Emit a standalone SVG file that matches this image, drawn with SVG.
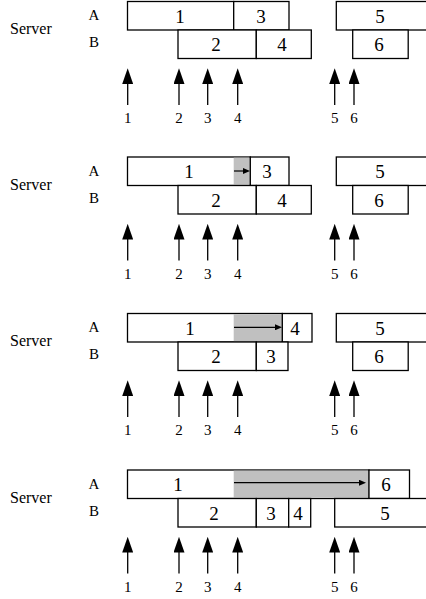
<svg xmlns="http://www.w3.org/2000/svg" width="426" height="599" viewBox="0 0 426 599">
<style>
.t{font-family:"Liberation Serif",serif;fill:#000}
.box{fill:#fff;stroke:#000;stroke-width:1.3}
.gray{fill:#c0c0c0;stroke:none}
.num{font-size:19px;text-anchor:middle}
.lbl{font-size:15px;text-anchor:middle}
.srv{font-size:16px}
.row{font-size:15px;text-anchor:middle}
.up{stroke:#000;stroke-width:1.3;fill:none;marker-end:url(#big)}
.mv{stroke:#000;stroke-width:1.2;fill:none;marker-end:url(#small)}
</style>
<defs>
<marker id="big" markerUnits="userSpaceOnUse" markerWidth="16" markerHeight="11" refX="4" refY="5.5" orient="auto"><path d="M0,0 L15.7,5.5 L0,11 z" fill="#000"/></marker>
<marker id="small" markerUnits="userSpaceOnUse" markerWidth="8" markerHeight="6" refX="2" refY="3" orient="auto"><path d="M0,0 L7,3 L0,6 z" fill="#000"/></marker>
</defs>
<rect width="426" height="599" fill="#fff"/>
<g font-family="Liberation Serif">

<!-- Panel 1 -->
<g id="panel1">
<g id="p1-labels"><text class="t srv" x="10" y="34">Server</text><text class="t row" x="94" y="20">A</text><text class="t row" x="94" y="47">B</text></g>
<g id="p1-A1"><rect class="box" x="127.5" y="1.5" width="106.2" height="28.5"/><text class="t num" x="180" y="22.7">1</text></g>
<g id="p1-A3"><rect class="box" x="233.7" y="1.5" width="55.3" height="28.5"/><text class="t num" x="261" y="22.7">3</text></g>
<g id="p1-B2"><rect class="box" x="178" y="30" width="78.3" height="28.5"/><text class="t num" x="216" y="51">2</text></g>
<g id="p1-B4"><rect class="box" x="256.3" y="30" width="55" height="28.5"/><text class="t num" x="282" y="51">4</text></g>
<g id="p1-A5"><rect class="box" x="336.3" y="1.5" width="100" height="28.5"/><text class="t num" x="380" y="22.7">5</text></g>
<g id="p1-B6"><rect class="box" x="352.7" y="30" width="55.5" height="28.5"/><text class="t num" x="379" y="51">6</text></g>
<g id="p1-req"><text class="t lbl" x="127.7" y="123">1</text><text class="t lbl" x="179" y="123">2</text><text class="t lbl" x="207.7" y="123">3</text><text class="t lbl" x="237.7" y="123">4</text><text class="t lbl" x="334.7" y="123">5</text><text class="t lbl" x="354" y="123">6</text></g>
</g>

<!-- Panel 2 -->
<g id="panel2" transform="translate(0,155.5)">
<g id="p2-labels"><text class="t srv" x="10" y="34">Server</text><text class="t row" x="94" y="20">A</text><text class="t row" x="94" y="47">B</text></g>
<g id="p2-A1"><rect class="box" x="127.5" y="1.5" width="122.8" height="28.5"/><rect class="gray" x="233.7" y="2.15" width="16" height="27.2"/><text class="t num" x="189" y="22.7">1</text></g>
<g id="p2-A3"><rect class="box" x="250.3" y="1.5" width="38.7" height="28.5"/><text class="t num" x="267" y="22.7">3</text></g>
<g id="p2-B2"><rect class="box" x="178" y="30" width="78.3" height="28.5"/><text class="t num" x="216" y="51">2</text></g>
<g id="p2-B4"><rect class="box" x="256.3" y="30" width="55" height="28.5"/><text class="t num" x="282" y="51">4</text></g>
<g id="p2-A5"><rect class="box" x="336.3" y="1.5" width="100" height="28.5"/><text class="t num" x="380" y="22.7">5</text></g>
<g id="p2-B6"><rect class="box" x="352.7" y="30" width="55.5" height="28.5"/><text class="t num" x="379" y="51">6</text></g>
<g id="p2-req"><text class="t lbl" x="127.7" y="123">1</text><text class="t lbl" x="179" y="123">2</text><text class="t lbl" x="207.7" y="123">3</text><text class="t lbl" x="237.7" y="123">4</text><text class="t lbl" x="334.7" y="123">5</text><text class="t lbl" x="354" y="123">6</text></g>
</g>

<!-- Panel 3 -->
<g id="panel3" transform="translate(0,312)">
<g id="p3-labels"><text class="t srv" x="10" y="34">Server</text><text class="t row" x="94" y="20">A</text><text class="t row" x="94" y="47">B</text></g>
<g id="p3-A1"><rect class="box" x="127.5" y="1.5" width="154.8" height="28.5"/><rect class="gray" x="233.7" y="2.15" width="48" height="27.2"/><text class="t num" x="190" y="22.7">1</text></g>
<g id="p3-A4"><rect class="box" x="282.3" y="1.5" width="29.7" height="28.5"/><text class="t num" x="295" y="22.7">4</text></g>
<g id="p3-B2"><rect class="box" x="178" y="30" width="78.3" height="28.5"/><text class="t num" x="216" y="51">2</text></g>
<g id="p3-B3"><rect class="box" x="256.3" y="30" width="31.7" height="28.5"/><text class="t num" x="271" y="51">3</text></g>
<g id="p3-A5"><rect class="box" x="336.3" y="1.5" width="100" height="28.5"/><text class="t num" x="380" y="22.7">5</text></g>
<g id="p3-B6"><rect class="box" x="352.7" y="30" width="55.5" height="28.5"/><text class="t num" x="379" y="51">6</text></g>
<g id="p3-req"><text class="t lbl" x="127.7" y="123">1</text><text class="t lbl" x="179" y="123">2</text><text class="t lbl" x="207.7" y="123">3</text><text class="t lbl" x="237.7" y="123">4</text><text class="t lbl" x="334.7" y="123">5</text><text class="t lbl" x="354" y="123">6</text></g>
</g>

<!-- Panel 4 -->
<g id="panel4" transform="translate(0,468.5)">
<g id="p4-labels"><text class="t srv" x="10" y="34">Server</text><text class="t row" x="94" y="20">A</text><text class="t row" x="94" y="47">B</text></g>
<g id="p4-A1"><rect class="box" x="127.5" y="1.5" width="241.5" height="28.5"/><rect class="gray" x="233.7" y="2.15" width="134.7" height="27.2"/><text class="t num" x="178" y="22.7">1</text></g>
<g id="p4-A6"><rect class="box" x="369" y="1.5" width="40.5" height="28.5"/><text class="t num" x="386" y="22.7">6</text></g>
<g id="p4-B2"><rect class="box" x="178" y="30" width="78.3" height="28.5"/><text class="t num" x="214" y="51">2</text></g>
<g id="p4-B3"><rect class="box" x="256.3" y="30" width="32.4" height="28.5"/><text class="t num" x="271" y="51">3</text></g>
<g id="p4-B4"><rect class="box" x="288.7" y="30" width="22" height="28.5"/><text class="t num" x="298" y="51">4</text></g>
<g id="p4-B5"><rect class="box" x="334.7" y="30" width="100" height="28.5"/><text class="t num" x="385" y="51">5</text></g>
<g id="p4-req"><text class="t lbl" x="127.7" y="123">1</text><text class="t lbl" x="179" y="123">2</text><text class="t lbl" x="207.7" y="123">3</text><text class="t lbl" x="237.7" y="123">4</text><text class="t lbl" x="334.7" y="123">5</text><text class="t lbl" x="354" y="123">6</text></g>
</g>
</g>

<!-- Connectors -->
<g id="connectors">
<g id="c1">
<line class="up" x1="127.7" y1="105" x2="127.7" y2="80"/><line class="up" x1="179" y1="105" x2="179" y2="80"/><line class="up" x1="207.7" y1="105" x2="207.7" y2="80"/><line class="up" x1="237.7" y1="105" x2="237.7" y2="80"/><line class="up" x1="334.7" y1="105" x2="334.7" y2="80"/><line class="up" x1="354" y1="105" x2="354" y2="80"/>
</g>
<g id="c2" transform="translate(0,155.5)">
<line class="mv" x1="234" y1="15.5" x2="245" y2="15.5"/>
<line class="up" x1="127.7" y1="105" x2="127.7" y2="80"/><line class="up" x1="179" y1="105" x2="179" y2="80"/><line class="up" x1="207.7" y1="105" x2="207.7" y2="80"/><line class="up" x1="237.7" y1="105" x2="237.7" y2="80"/><line class="up" x1="334.7" y1="105" x2="334.7" y2="80"/><line class="up" x1="354" y1="105" x2="354" y2="80"/>
</g>
<g id="c3" transform="translate(0,312)">
<line class="mv" x1="234" y1="15.3" x2="277" y2="15.3"/>
<line class="up" x1="127.7" y1="105" x2="127.7" y2="80"/><line class="up" x1="179" y1="105" x2="179" y2="80"/><line class="up" x1="207.7" y1="105" x2="207.7" y2="80"/><line class="up" x1="237.7" y1="105" x2="237.7" y2="80"/><line class="up" x1="334.7" y1="105" x2="334.7" y2="80"/><line class="up" x1="354" y1="105" x2="354" y2="80"/>
</g>
<g id="c4" transform="translate(0,468.5)">
<line class="mv" x1="234" y1="14.2" x2="361" y2="14.2"/>
<line class="up" x1="127.7" y1="105" x2="127.7" y2="80"/><line class="up" x1="179" y1="105" x2="179" y2="80"/><line class="up" x1="207.7" y1="105" x2="207.7" y2="80"/><line class="up" x1="237.7" y1="105" x2="237.7" y2="80"/><line class="up" x1="334.7" y1="105" x2="334.7" y2="80"/><line class="up" x1="354" y1="105" x2="354" y2="80"/>
</g>
</g>
</svg>
